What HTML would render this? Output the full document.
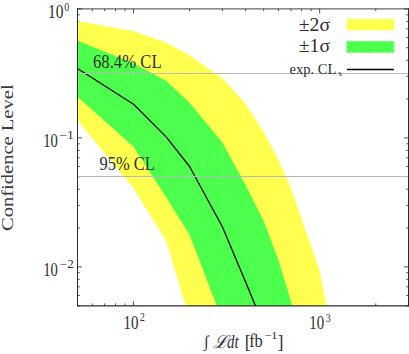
<!DOCTYPE html><html><head><meta charset="utf-8"><style>html,body{margin:0;padding:0;background:#fff;overflow:hidden}body{width:409px;height:354px;position:relative;font-family:"Liberation Serif",serif}</style></head><body><svg width="409" height="354" viewBox="0 0 409 354" style="position:absolute;left:0;top:0">
<defs><clipPath id="c"><rect x="77.50" y="8.90" width="331.00" height="296.80"/></clipPath></defs>
<rect width="409" height="354" fill="#fff"/>
<path d="M77.50 305.70v-2.30M77.50 8.90v2.30M92.24 305.70v-2.30M92.24 8.90v2.30M104.70 305.70v-2.30M104.70 8.90v2.30M115.50 305.70v-2.30M115.50 8.90v2.30M125.02 305.70v-2.30M125.02 8.90v2.30M133.54 305.70v-4.50M133.54 8.90v4.50M189.57 305.70v-2.30M189.57 8.90v2.30M222.35 305.70v-2.30M222.35 8.90v2.30M245.61 305.70v-2.30M245.61 8.90v2.30M263.65 305.70v-2.30M263.65 8.90v2.30M278.39 305.70v-2.30M278.39 8.90v2.30M290.85 305.70v-2.30M290.85 8.90v2.30M301.65 305.70v-2.30M301.65 8.90v2.30M311.17 305.70v-2.30M311.17 8.90v2.30M319.68 305.70v-4.50M319.68 8.90v4.50M375.72 305.70v-2.30M375.72 8.90v2.30M408.50 305.70v-2.30M408.50 8.90v2.30M77.50 8.90h4.50M408.50 8.90h-4.50M77.50 137.89h4.50M408.50 137.89h-4.50M77.50 99.06h2.30M408.50 99.06h-2.30M77.50 76.34h2.30M408.50 76.34h-2.30M77.50 60.23h2.30M408.50 60.23h-2.30M77.50 47.73h2.30M408.50 47.73h-2.30M77.50 37.52h2.30M408.50 37.52h-2.30M77.50 28.88h2.30M408.50 28.88h-2.30M77.50 21.40h2.30M408.50 21.40h-2.30M77.50 14.80h2.30M408.50 14.80h-2.30M77.50 266.87h4.50M408.50 266.87h-4.50M77.50 228.04h2.30M408.50 228.04h-2.30M77.50 205.33h2.30M408.50 205.33h-2.30M77.50 189.21h2.30M408.50 189.21h-2.30M77.50 176.71h2.30M408.50 176.71h-2.30M77.50 166.50h2.30M408.50 166.50h-2.30M77.50 157.87h2.30M408.50 157.87h-2.30M77.50 150.39h2.30M408.50 150.39h-2.30M77.50 143.79h2.30M408.50 143.79h-2.30M77.50 305.70h2.30M408.50 305.70h-2.30M77.50 295.49h2.30M408.50 295.49h-2.30M77.50 286.85h2.30M408.50 286.85h-2.30M77.50 279.37h2.30M408.50 279.37h-2.30M77.50 272.77h2.30M408.50 272.77h-2.30" stroke="#2a2a2a" stroke-width="0.8" fill="none"/>
<g clip-path="url(#c)">
<polygon fill="#ffff4d" points="77.50,21.10 133.54,31.20 166.32,42.60 189.57,55.40 222.35,78.30 245.61,103.70 263.65,131.90 278.39,159.50 290.85,188.00 301.65,219.00 311.17,246.00 319.68,270.70 326.30,305.50 327.50,312.00 187.40,312.00 185.40,305.50 166.32,241.10 133.54,188.30 77.50,120.30"/>
<polygon fill="#4dff4d" points="77.50,40.80 133.54,63.30 166.32,81.10 189.57,102.80 222.35,142.50 245.61,185.00 263.65,221.00 278.39,260.00 292.20,305.50 294.20,312.00 219.30,312.00 216.80,305.50 189.57,235.10 166.32,197.40 133.54,146.80 77.50,96.80"/>
<clipPath id="yp"><polygon points="77.50,21.10 133.54,31.20 166.32,42.60 189.57,55.40 222.35,78.30 245.61,103.70 263.65,131.90 278.39,159.50 290.85,188.00 301.65,219.00 311.17,246.00 319.68,270.70 326.30,305.50 327.50,312.00 187.40,312.00 185.40,305.50 166.32,241.10 133.54,188.30 77.50,120.30"/></clipPath>
<path clip-path="url(#yp)" d="M133.54 0V320M166.32 0V320M189.57 0V320M222.35 0V320M245.61 0V320M263.65 0V320M278.39 0V320M290.85 0V320M301.65 0V320M311.17 0V320M319.68 0V320" stroke="#fff" stroke-opacity="0.10" stroke-width="0.6" fill="none"/>
<polyline fill="none" stroke="#000" stroke-width="1.3" stroke-linejoin="round" points="77.50,68.50 133.54,104.30 166.32,137.10 189.57,166.50 222.35,226.80 245.61,282.00 255.30,305.50 258.00,312.00"/>
<line x1="77.50" x2="408.50" y1="73.50" y2="73.50" stroke="#b8b8b8" stroke-width="1"/>
<line x1="77.50" x2="408.50" y1="176.50" y2="176.50" stroke="#b8b8b8" stroke-width="1"/>
</g>
<path d="M77.50 8.45V306.30" stroke="#2a2a2a" stroke-width="1" fill="none"/>
<path d="M408.50 8.45V306.30" stroke="#2a2a2a" stroke-width="1" fill="none"/>
<path d="M77.00 8.90H409.00" stroke="#2a2a2a" stroke-width="0.9" fill="none"/>
<path d="M77.00 305.75H409.00" stroke="#2a2a2a" stroke-width="1.25" fill="none"/>
<rect x="346.6" y="19" width="47.6" height="11.4" fill="#ffff4d"/>
<rect x="346.9" y="41.4" width="47" height="10.9" fill="#4dff4d" stroke="#a8ffa8" stroke-width="0.8"/>
<rect x="346.9" y="41.4" width="47" height="10.9" fill="none" stroke="#38ff38" stroke-width="0.8" stroke-dasharray="2.4,1.5"/>
<line x1="346.9" x2="393.9" y1="69.5" y2="69.5" stroke="#000" stroke-width="1.3"/>
<g font-family="'Liberation Serif', serif" fill="#2e2e2e">
<text x="48" y="17.6" font-size="18" textLength="15.4" lengthAdjust="spacingAndGlyphs">10</text>
<text x="64.3" y="10.7" font-size="12" textLength="5" lengthAdjust="spacingAndGlyphs">0</text>
<text x="43.3" y="146.7" font-size="18" textLength="14.6" lengthAdjust="spacingAndGlyphs">10</text>
<text x="59.4" y="138.9" font-size="12" textLength="14.4" lengthAdjust="spacingAndGlyphs">−1</text>
<text x="43.3" y="275.7" font-size="18" textLength="14.6" lengthAdjust="spacingAndGlyphs">10</text>
<text x="59.8" y="267.7" font-size="12" textLength="14" lengthAdjust="spacingAndGlyphs">−2</text>
<text x="123.5" y="328.6" font-size="18" textLength="14.9" lengthAdjust="spacingAndGlyphs">10</text>
<text x="140" y="321.1" font-size="12" textLength="4.8" lengthAdjust="spacingAndGlyphs">2</text>
<text x="309.3" y="328.6" font-size="18" textLength="14.8" lengthAdjust="spacingAndGlyphs">10</text>
<text x="325.7" y="321.5" font-size="12" textLength="5" lengthAdjust="spacingAndGlyphs">3</text>
<text x="93" y="67.8" font-size="18" textLength="68.6" lengthAdjust="spacingAndGlyphs">68.4% CL</text>
<text x="99.6" y="169.5" font-size="18" textLength="55.2" lengthAdjust="spacingAndGlyphs">95% CL</text>
<text x="298.8" y="30.6" font-size="18" textLength="31.3" lengthAdjust="spacingAndGlyphs">±2σ</text>
<text x="298.8" y="52.4" font-size="18" textLength="31.3" lengthAdjust="spacingAndGlyphs">±1σ</text>
<text x="289.6" y="73.8" font-size="14" textLength="46.8" lengthAdjust="spacingAndGlyphs">exp. CL</text>
<text x="338.2" y="76.2" font-size="9" textLength="3.8" lengthAdjust="spacingAndGlyphs">s</text>
<text x="12.6" y="231" font-size="16" fill="#3c3c3c" textLength="146.6" lengthAdjust="spacingAndGlyphs" transform="rotate(-90 12.6 231)">Confidence Level</text>
<text x="206.2" y="346.5" font-size="16" text-anchor="middle" font-family="'Liberation Serif', 'DejaVu Serif', serif">∫</text>
<text x="220" y="347.5" font-size="18" font-style="italic" text-anchor="middle" font-family="'Liberation Serif', 'DejaVu Serif', serif">ℒ</text>
<text x="227.1" y="347.5" font-size="18" font-style="italic" textLength="11.6" lengthAdjust="spacingAndGlyphs">dt</text>
<text x="244.8" y="347.5" font-size="18">[</text>
<text x="249.2" y="347.4" font-size="18" textLength="13.6" lengthAdjust="spacingAndGlyphs">fb</text>
<text x="264.4" y="339.4" font-size="11" textLength="13" lengthAdjust="spacingAndGlyphs">−1</text>
<text x="277.4" y="347.5" font-size="18">]</text>
</g>
</svg></body></html>
